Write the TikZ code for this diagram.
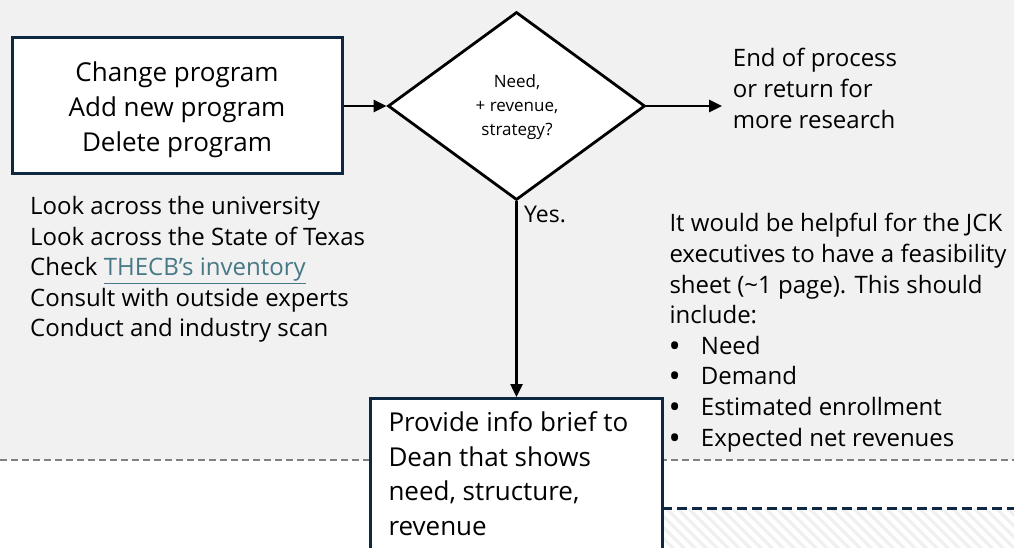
\documentclass[tikz,border=0pt]{standalone}
\usepackage{fontspec}
\setmainfont{Open Sans}
\usetikzlibrary{arrows.meta,shapes.geometric}
\definecolor{bggray}{HTML}{F1F1F1}
\definecolor{navy}{HTML}{0E2841}
\definecolor{linkcol}{HTML}{467886}
\definecolor{hatchgray}{HTML}{EFEFEF}
\definecolor{dashgray}{HTML}{808080}
\newcommand{\mybullet}{\makebox[31.4pt][l]{\hspace{-1pt}\raisebox{-3pt}{\scalebox{1.35}{\textbullet}}}}
\tikzset{
  boxstyle/.style={draw=navy, line width=3pt, fill=white, rectangle, inner sep=0pt},
  decision/.style={draw=black, line width=2.8pt, fill=white, diamond, inner sep=0pt},
  flow/.style={draw=black, line width=2.5pt, -{Triangle[length=13pt,width=12pt]}},
  txt/.style={inner sep=0pt, text=black},
  hatchline/.style={draw=hatchgray, line width=3pt},
}
\begin{document}
\begin{tikzpicture}[x=1pt, y=-1pt]
\useasboundingbox (0,0) rectangle (1014,548);
\clip (0,0) rectangle (1014,548);
% backgrounds
\fill[bggray] (0,0) rectangle (1014,460);
\fill[white] (0,460) rectangle (1014,548);
\begin{scope}
  \clip (662,508) rectangle (1014,548);
  \foreach \i in {600,611,...,1050} \draw[hatchline] (\i,508) -- ++(45,45);
\end{scope}
\draw[dashgray, line width=1.5pt, dash pattern=on 7pt off 4pt] (0,460) -- (1014,460);
\draw[navy, line width=3pt, dash pattern=on 10pt off 5pt] (662,508) -- (1014,508);
% shapes
\node[boxstyle, minimum width=330pt, minimum height=136pt] (box1) at (177,106) {};
\node[decision, minimum width=257pt, minimum height=188pt] (dia) at (516.5,106) {};
\node[boxstyle, minimum width=292pt, minimum height=180pt, anchor=north] (box2) at (516,397) {};
\coordinate (endpt) at (722,106);
% connectors
\draw[flow] (box1.east) -- (dia.west);
\draw[flow] (dia.east) -- (endpt);
\draw[flow] (dia.south) -- (dia.south |- box2.north);
% texts
\node[txt, anchor=north, align=center, font=\fontsize{26}{35.3}\selectfont] (box1txt) at (177,56.3)
  {\strut Change program\\ Add new program\\ Delete program};
\node[txt, anchor=north, align=center, font=\fontsize{17}{24}\selectfont] (diatxt) at (517,70.2)
  {\strut Need,\\ + revenue,\\ strategy?};
\node[txt, anchor=north west, align=left, font=\fontsize{24}{31.2}\selectfont] (endtxt) at (732.7,44.2)
  {\strut End of process\\ or return for\\ more research};
\node[txt, anchor=base west, font=\fontsize{23}{28}\selectfont] (yestxt) at (524,222.7) {Yes.};
\node[txt, anchor=north west, align=left, font=\fontsize{24}{30.6}\selectfont] (lefttxt) at (30,192.9)
  {\strut Look across the university\\ Look across the State of Texas\\ Check \textcolor{linkcol}{\underline{THECB’s inventory}}\\ Consult with outside experts\\ Conduct and industry scan};
\node[txt, anchor=north west, align=left, font=\fontsize{24}{30.6}\selectfont] (righttxt) at (669.3,210.3)
  {\strut It would be helpful for the JCK\\ executives to have a feasibility\\ sheet (\textasciitilde 1 page). This should\\ include:\\ \mybullet Need\\ \mybullet Demand\\ \mybullet Estimated enrollment\\ \mybullet Expected net revenues};
\node[txt, anchor=north west, align=left, font=\fontsize{26}{34.4}\selectfont] (box2txt) at (388.3,407.6)
  {\strut Provide info brief to\\ Dean that shows\\ need, structure,\\ revenue};
\end{tikzpicture}
\end{document}
